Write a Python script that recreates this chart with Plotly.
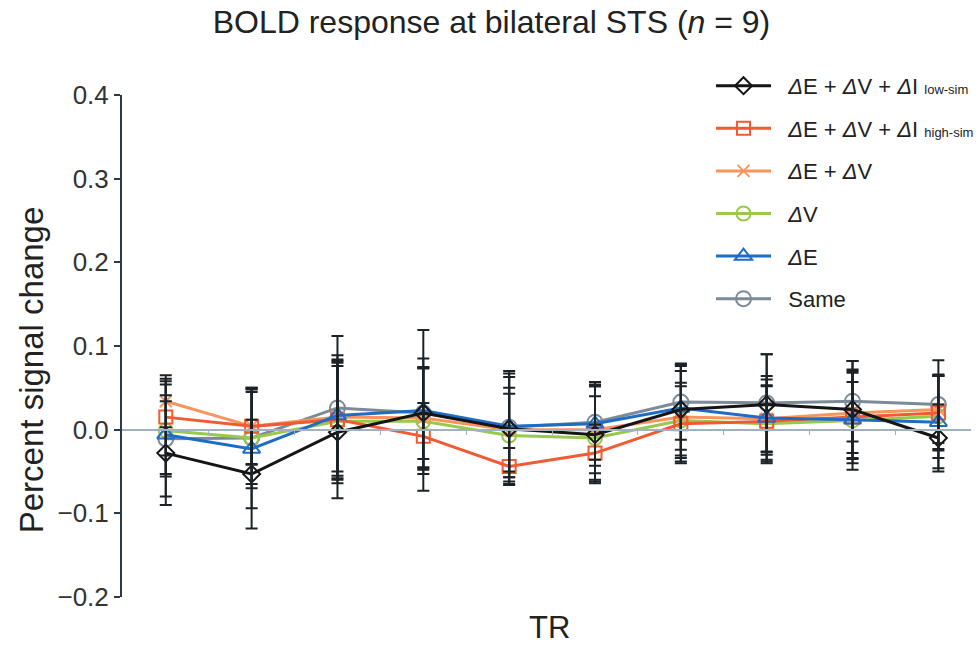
import plotly.graph_objects as go

tr = [1, 2, 3, 4, 5, 6, 7, 8, 9, 10]
pad = "\u00a0\u00a0"
names = [
    pad + "<i>Δ</i>E + <i>Δ</i>V + <i>Δ</i>I <span style='font-size:13px'>low-sim</span>",
    pad + "<i>Δ</i>E + <i>Δ</i>V + <i>Δ</i>I <span style='font-size:13px'>high-sim</span>",
    pad + "<i>Δ</i>E + <i>Δ</i>V",
    pad + "<i>Δ</i>V",
    pad + "<i>Δ</i>E",
    pad + "Same",
]
low_sim = [-0.028, -0.053, -0.003, 0.020, 0.001, -0.006, 0.024, 0.030, 0.024, -0.010]
high_sim = [0.015, 0.004, 0.012, -0.008, -0.044, -0.028, 0.007, 0.010, 0.015, 0.020]
e_plus_v = [0.034, 0.004, 0.015, 0.014, 0.000, 0.000, 0.015, 0.013, 0.020, 0.024]
v_only = [-0.001, -0.010, 0.010, 0.010, -0.007, -0.010, 0.011, 0.007, 0.011, 0.016]
e_only = [-0.006, -0.023, 0.017, 0.023, 0.004, 0.007, 0.026, 0.014, 0.012, 0.009]
same = [-0.011, -0.010, 0.026, 0.020, 0.003, 0.009, 0.033, 0.032, 0.034, 0.030]

err_low = [0.062, 0.065, 0.079, 0.055, 0.066, 0.058, 0.055, 0.060, 0.058, 0.040]
err_high = [0.046, 0.045, 0.070, 0.040, 0.022, 0.034, 0.045, 0.050, 0.055, 0.045]
err_ev = [0.031, 0.046, 0.065, 0.060, 0.050, 0.052, 0.055, 0.040, 0.048, 0.040]
err_v = [0.055, 0.055, 0.074, 0.063, 0.050, 0.050, 0.045, 0.045, 0.046, 0.050]
err_e = [0.047, 0.071, 0.072, 0.096, 0.066, 0.050, 0.050, 0.050, 0.060, 0.055]
err_same = [0.069, 0.060, 0.086, 0.065, 0.060, 0.045, 0.045, 0.058, 0.048, 0.053]

y_ticks = [-0.2, -0.1, 0.0, 0.1, 0.2, 0.3, 0.4]
x_minor = [1.5, 2.5, 3.5, 4.5, 5.5, 6.5, 7.5, 8.5, 9.5]

series = [
    (names[0], low_sim, err_low, "#151515", "diamond-open", 13, 1),
    (names[1], high_sim, err_high, "#ef5b33", "square-open", 13, 2),
    (names[2], e_plus_v, err_ev, "#f7955c", "x-thin", 12, 3),
    (names[3], v_only, err_v, "#98c84c", "circle-open", 14, 4),
    (names[4], e_only, err_e, "#1f6cc8", "triangle-up-open", 15, 5),
    (names[5], same, err_same, "#7d8a97", "circle-open", 15, 6),
]
draw_order = [5, 3, 2, 1, 4, 0]

fig = go.Figure()
for i in draw_order:
    name, vals, err, col, sym, size, rank = series[i]
    fig.add_trace(go.Scatter(
        x=tr, y=vals, name=name, mode="lines+markers",
        line=dict(color=col, width=3),
        marker=dict(symbol=sym, size=size, color=col, line=dict(color=col, width=2)),
        legendgroup=f"g{rank}", legendrank=rank,
    ))
for i in draw_order:
    name, vals, err, col, sym, size, rank = series[i]
    fig.add_trace(go.Scatter(
        x=tr, y=vals, mode="markers", showlegend=False, hoverinfo="skip",
        marker=dict(size=1, color="rgba(0,0,0,0)"),
        error_y=dict(type="data", array=err, visible=True, color="#1c2226",
                     thickness=2, width=6),
    ))

fig.update_layout(
    width=979, height=645,
    margin=dict(l=122, r=0, t=95, b=48),
    paper_bgcolor="white", plot_bgcolor="white",
    font=dict(family="Liberation Sans, Arial, sans-serif", color="#222"),
    title=dict(text="BOLD response at bilateral STS (<i>n</i> = 9)",
               x=0.502, xanchor="center", y=1 - 22 / 645, yanchor="middle",
               yref="container", font=dict(size=32, color="#222")),
    showlegend=True,
    legend=dict(x=0.694, y=1.06, xanchor="left", yanchor="top",
                bgcolor="rgba(0,0,0,0)", font=dict(size=22, color="#222"),
                traceorder="grouped", tracegroupgap=11, itemwidth=55),
    xaxis=dict(range=[0.49, 10.38], anchor="free", position=1 / 3,
               showline=True, linecolor="#9fb2c2", linewidth=1.5,
               ticks="outside", tickvals=x_minor, ticklen=5, tickcolor="#9fb2c2",
               showticklabels=False, showgrid=False, zeroline=False),
    yaxis=dict(range=[-0.2, 0.4], tickvals=y_ticks, tickformat=".1f",
               showline=True, linecolor="#2b3a47", linewidth=2,
               ticks="outside", ticklen=6, tickcolor="#2b3a47", tickwidth=2,
               tickfont=dict(size=26, color="#333"),
               showgrid=False, zeroline=False),
    annotations=[
        dict(text="TR", x=0.503, y=-0.06, xref="paper", yref="paper",
             xanchor="center", yanchor="middle", showarrow=False,
             font=dict(size=31, color="#222")),
        dict(text="Percent signal change", x=-0.107, y=0.452, xref="paper",
             yref="paper", xanchor="center", yanchor="middle", textangle=-90,
             showarrow=False, font=dict(size=33, color="#222")),
    ],
)

fig.write_html("out.html")
